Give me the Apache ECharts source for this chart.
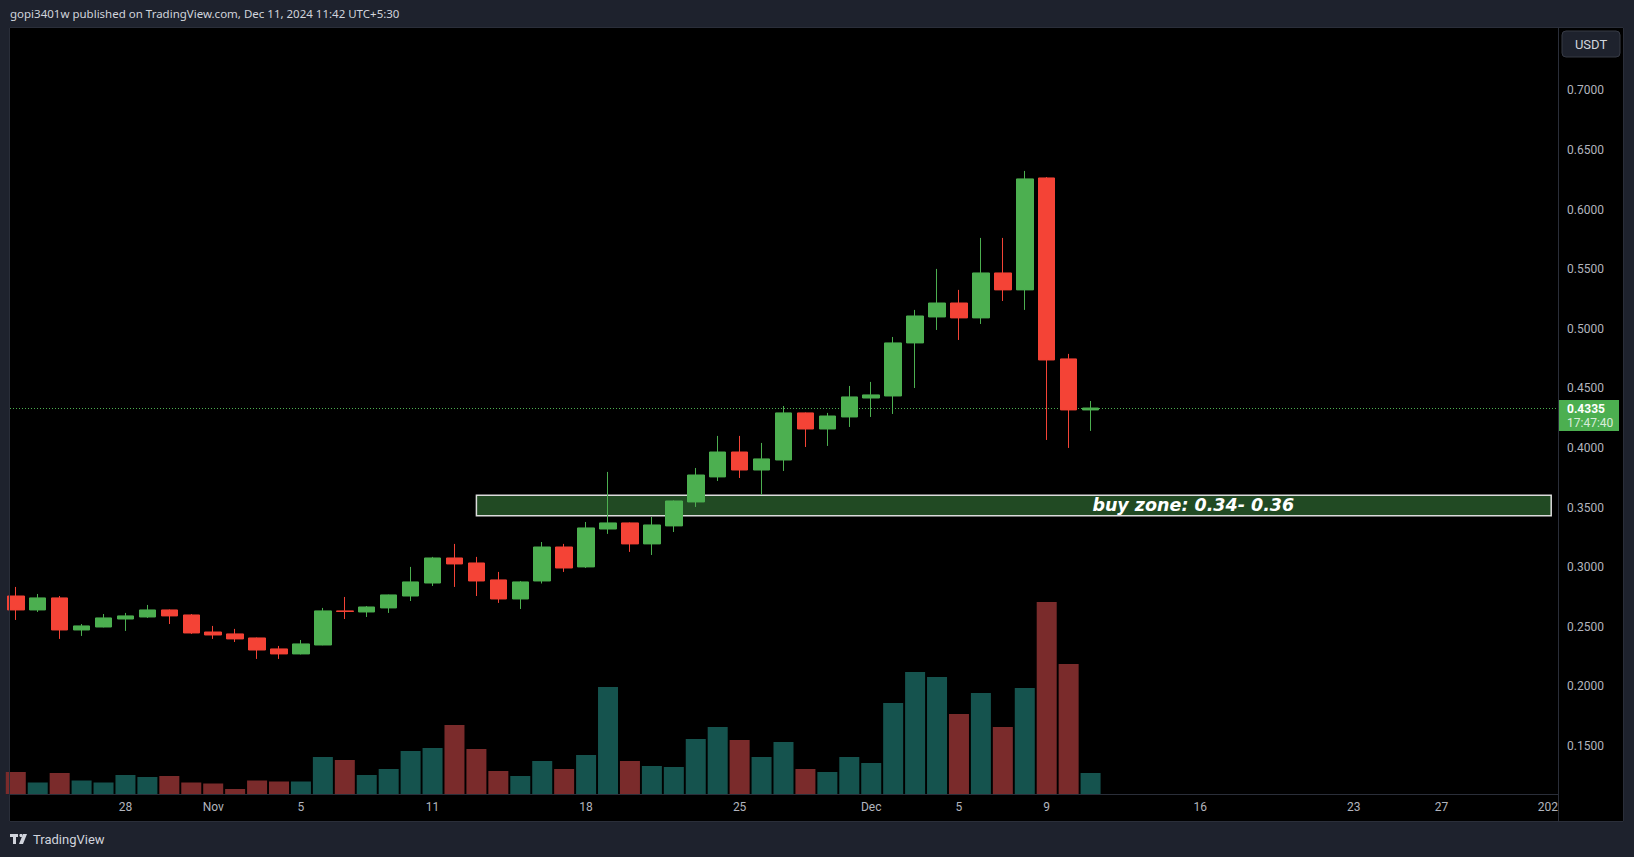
<!DOCTYPE html>
<html><head><meta charset="utf-8">
<script src="https://cdn.jsdelivr.net/npm/echarts@6/dist/echarts.min.js"></script>
<style>
html,body{margin:0;padding:0;background:#1e222d;width:1634px;height:857px;overflow:hidden}
#frame{position:absolute;left:10px;top:28px;width:1613px;height:793px;background:#000;}
#c{position:absolute;left:0;top:0;width:1634px;height:857px}
</style></head><body><div id="frame"></div><div id="c"></div>
<script>
const dates = ['2024-10-23','2024-10-24','2024-10-25','2024-10-26','2024-10-27','2024-10-28','2024-10-29','2024-10-30','2024-10-31',
'2024-11-01','2024-11-02','2024-11-03','2024-11-04','2024-11-05','2024-11-06','2024-11-07','2024-11-08','2024-11-09','2024-11-10',
'2024-11-11','2024-11-12','2024-11-13','2024-11-14','2024-11-15','2024-11-16','2024-11-17','2024-11-18','2024-11-19','2024-11-20',
'2024-11-21','2024-11-22','2024-11-23','2024-11-24','2024-11-25','2024-11-26','2024-11-27','2024-11-28','2024-11-29','2024-11-30',
'2024-12-01','2024-12-02','2024-12-03','2024-12-04','2024-12-05','2024-12-06','2024-12-07','2024-12-08','2024-12-09','2024-12-10','2024-12-11'];
const opens  = [0.2758,0.2641,0.2742,0.2473,0.2498,0.2565,0.2582,0.2641,0.2599,0.2456,0.2440,0.2406,0.2314,0.2272,0.2347,0.2633,0.2624,0.2658,0.2758,0.2867,
0.3077,0.3035,0.2893,0.2733,0.2884,0.3169,0.3002,0.3320,0.3371,0.3195,0.3346,0.3547,0.3757,0.3966,0.3815,0.3899,0.4294,0.4159,0.4260,0.4419,
0.4436,0.4881,0.5099,0.5216,0.5091,0.5468,0.5326,0.6265,0.4747,0.4319];
const closes = [0.2641,0.2742,0.2473,0.2507,0.2574,0.2591,0.2641,0.2591,0.2448,0.2431,0.2398,0.2305,0.2272,0.2356,0.2633,0.2628,0.2666,0.2767,0.2876,0.3077,
0.3027,0.2884,0.2733,0.2876,0.3169,0.2993,0.3329,0.3371,0.3195,0.3354,0.3555,0.3773,0.3966,0.3815,0.3908,0.4294,0.4159,0.4268,0.4428,0.4445,
0.4881,0.5107,0.5216,0.5091,0.5468,0.5326,0.6257,0.4738,0.4319,0.4335];
const lows   = [0.2557,0.2624,0.2398,0.2423,0.2495,0.2465,0.2574,0.2523,0.2440,0.2398,0.2372,0.2230,0.2230,0.2268,0.2345,0.2565,0.2582,0.2616,0.2716,0.2842,
0.2834,0.2758,0.2700,0.2649,0.2863,0.2960,0.2993,0.3279,0.3128,0.3102,0.3295,0.3505,0.3723,0.3748,0.3606,0.3807,0.4008,0.4017,0.4176,0.4260,
0.4285,0.4503,0.4990,0.4906,0.5040,0.5233,0.5158,0.4067,0.4000,0.4143];
const highs  = [0.2834,0.2775,0.2758,0.2523,0.2607,0.2616,0.2683,0.2645,0.2607,0.2507,0.2482,0.2410,0.2339,0.2389,0.2658,0.2750,0.2674,0.2770,0.3002,0.3086,
0.3195,0.3086,0.2960,0.2884,0.3211,0.3195,0.3379,0.3799,0.3375,0.3421,0.3560,0.3832,0.4101,0.4101,0.4042,0.4352,0.4298,0.4294,0.4520,0.4554,
0.4931,0.5158,0.5502,0.5326,0.5762,0.5762,0.6324,0.6273,0.4789,0.4394];
const volumes = [22,11.5,21,13.5,11.5,19,17,18,11.5,10.5,5,13.5,12.5,12.5,37,34,19,25,43,46,
69,45,23,18,33,25,39,107,33,28,27,55,67,54,37,52,25,22,37,31,
91,122,117,80,101,67,106,192,130,21];
const priceTicks = [0.15,0.20,0.25,0.30,0.35,0.40,0.45,0.50,0.55,0.60,0.65,0.70];
const timeTickDates = ['2024-10-28','2024-11-01','2024-11-05','2024-11-11','2024-11-18','2024-11-25','2024-12-01','2024-12-05','2024-12-09','2024-12-16','2024-12-23','2024-12-27','2025-01-01'];
const timeTickLabels = ['28','Nov','5','11','18','25','Dec','5','9','16','23','27','2025'];
const zoneDates = ['2024-11-13','2025-01-01'];
const zoneRange = [0.3432,0.3603];
const zoneText = 'buy zone: 0.34- 0.36';
const lastPrice = 0.4335;
const countdown = '17:47:40';
const currency = 'USDT';
const headerText = 'gopi3401w published on TradingView.com, Dec 11, 2024 11:42 UTC+5:30';

const UP = '#4caf50', DOWN = '#f44336', VUP = '#15534e', VDOWN = '#7a2b2b';
const base = Date.parse(dates[0]);
const dayIdx = d => (Date.parse(d) - base) / 86400000;
const xMin = -0.264, xMax = 70.31;
const tickMap = {};
timeTickDates.forEach((d, i) => { tickMap[Math.round(dayIdx(d))] = timeTickLabels[i]; });

const candleData = dates.map((d, i) => [dayIdx(d), opens[i], closes[i], lows[i], highs[i]]);
const volData = dates.map((d, i) => ({ value: [dayIdx(d), volumes[i]], itemStyle: { color: closes[i] >= opens[i] ? VUP : VDOWN } }));

const chart = echarts.init(document.getElementById('c'), null, { renderer: 'svg', width: 1634, height: 857 });
const axisFont = { color: '#b2b5be', fontSize: 12, fontFamily: 'Roboto' };
const line = (x1, y1, x2, y2, c) => ({ type: 'line', silent: true, z: 50, shape: { x1, y1, x2, y2 }, style: { stroke: c || '#2a2e39', lineWidth: 1 } });

chart.setOption({
  backgroundColor: 'transparent',
  animation: false,
  grid: [
    { left: 10, right: 76, top: 28, bottom: 63 },
    { left: 10, right: 76, top: 594, bottom: 63 }
  ],
  xAxis: [
    { type: 'value', gridIndex: 0, min: xMin, max: xMax, show: false, splitLine: { show: false } },
    { type: 'value', gridIndex: 1, min: xMin, max: xMax, z: 1,
      axisLine: { show: false }, axisTick: { show: false }, splitLine: { show: false },
      axisLabel: Object.assign({ margin: 7, customValues: timeTickDates.map(dayIdx), formatter: v => tickMap[Math.round(v)] || '' }, axisFont) }
  ],
  yAxis: [
    { type: 'value', gridIndex: 0, position: 'right', min: 0.1097, max: 0.7523, z: 60,
      axisLine: { show: false }, axisTick: { show: false }, splitLine: { show: false },
      axisLabel: Object.assign({ margin: 9, align: 'left', customValues: priceTicks, formatter: v => v.toFixed(4) }, axisFont) },
    { type: 'value', gridIndex: 1, min: 0, max: 200, show: false, splitLine: { show: false } }
  ],
  series: [
    { type: 'bar', xAxisIndex: 1, yAxisIndex: 1, data: volData, barWidth: 20, z: 1, silent: true },
    { type: 'candlestick', xAxisIndex: 0, yAxisIndex: 0, z: 3, silent: true, barWidth: 17,
      encode: { x: 0, y: [1, 2, 3, 4] },
      data: candleData,
      itemStyle: { color: UP, color0: DOWN, borderColor: UP, borderColor0: DOWN, borderWidth: 1 },
      markArea: {
        silent: true,
        itemStyle: { color: '#214a23', borderColor: '#dcdcdc', borderWidth: 1.5 },
        label: { show: true, position: ['57.3%', '50%'], align: 'left', verticalAlign: 'middle', color: '#ffffff',
          fontSize: 17.5, fontWeight: 'bold', fontStyle: 'italic', fontFamily: 'DejaVu Sans' },
        data: [[{ coord: [dayIdx(zoneDates[0]), zoneRange[1]], name: zoneText }, { coord: [dayIdx(zoneDates[1]), zoneRange[0]] }]]
      }
    }
  ],
  graphic: [
    { type: 'text', left: 10, top: 7, silent: true, style: { text: headerText, fill: '#d1d4dc', fontSize: 11.5, fontFamily: 'Noto Sans' } },
    line(1558.5, 28, 1558.5, 821),
    line(10, 794.5, 1558, 794.5),
    line(9.5, 28, 9.5, 821),
    line(1623.5, 28, 1623.5, 821),
    line(10, 27.5, 1623, 27.5),
    line(10, 821.5, 1623, 821.5),
    { type: 'rect', silent: true, z: 40, shape: { x: 1559, y: 795, width: 64, height: 26 }, style: { fill: '#000' } },
    { type: 'rect', silent: true, z: 70, shape: { x: 1562, y: 31, width: 58, height: 26, r: 4 }, style: { fill: '#1e222d', stroke: '#363a45', lineWidth: 1 } },
    { type: 'text', silent: true, z: 71, x: 1591, y: 44, style: { text: currency, fill: '#d1d4dc', fontSize: 13, fontFamily: 'Roboto', align: 'center', verticalAlign: 'middle' } },
    { type: 'text', silent: true, z: 71, x: 33, y: 839, style: { text: 'TradingView', fill: '#d1d4dc', fontSize: 13, fontFamily: 'Roboto', align: 'left', verticalAlign: 'middle' } },
    { type: 'rect', silent: true, z: 71, shape: { x: 10, y: 834, width: 8, height: 3 }, style: { fill: '#d1d4dc' } },
    { type: 'rect', silent: true, z: 71, shape: { x: 13, y: 834, width: 3, height: 10 }, style: { fill: '#d1d4dc' } },
    { type: 'circle', silent: true, z: 71, shape: { cx: 21, cy: 835.5, r: 1.6 }, style: { fill: '#d1d4dc' } },
    { type: 'polygon', silent: true, z: 71, shape: { points: [[23, 834], [27, 834], [23, 844], [19, 844]] }, style: { fill: '#d1d4dc' } }
  ]
});

// current price line and price-scale label, positioned through the chart's own y scale
const py = Math.round(chart.convertToPixel({ yAxisIndex: 0 }, lastPrice)) + 0.5;
const gx0 = chart.convertToPixel({ xAxisIndex: 0 }, xMin);
const gx1 = chart.convertToPixel({ xAxisIndex: 0 }, xMax);
chart.setOption({
  graphic: [
    { type: 'line', id: 'plline', silent: true, z: 2, shape: { x1: gx0, y1: py, x2: gx1, y2: py }, style: { stroke: UP, lineWidth: 1, lineDash: [1, 2] } },
    { type: 'rect', id: 'plbox', silent: true, z: 80, shape: { x: 1559, y: py - 8.5, width: 60, height: 31 }, style: { fill: UP } },
    { type: 'text', id: 'pl1', silent: true, z: 81, x: 1567, y: py + 0.5, style: { text: lastPrice.toFixed(4), fill: '#ffffff', fontSize: 12, fontWeight: 'bold', fontFamily: 'Roboto', verticalAlign: 'middle' } },
    { type: 'text', id: 'pl2', silent: true, z: 81, x: 1567, y: py + 14, style: { text: countdown, fill: 'rgba(255,255,255,0.8)', fontSize: 12, fontFamily: 'Roboto', verticalAlign: 'middle' } }
  ]
});
</script></body></html>
